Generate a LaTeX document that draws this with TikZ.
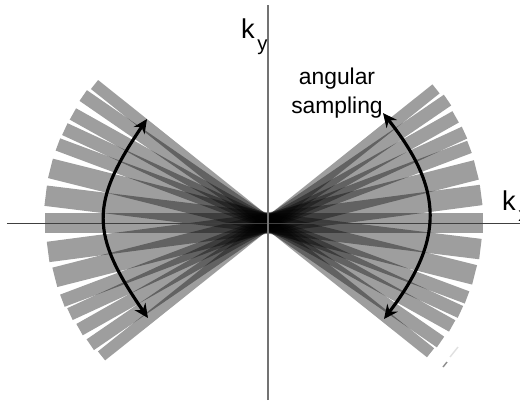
\documentclass[tikz,border=0pt]{standalone}
\usepackage{fontspec}
\setmainfont{Liberation Sans}
\usetikzlibrary{arrows.meta}

\begin{document}
\begin{tikzpicture}[x=0.02cm,y=0.02cm]
\tikzset{
  beamstrip/.style={fill=black,fill opacity=0.38},
  axisline/.style={draw=black!75,line width=0.45pt},
  samplearc/.style={draw=black,line width=1.8pt,{Stealth[length=2.8mm,width=2.6mm]}-{Stealth[length=2.8mm,width=2.6mm]}},
  axislabel/.style={inner sep=0pt,font=\fontsize{15.5}{15.5}\selectfont},
  sublabel/.style={inner sep=0pt,font=\fontsize{11.5}{11.5}\selectfont},
  samplelabel/.style={inner sep=0pt,align=center,font=\fontsize{13}{16.5}\selectfont}
}
\useasboundingbox (-268,-177) rectangle (252,223);
\clip (-268,-177) rectangle (252,223);
% strips: angle/width/left end/right end
\foreach \ang/\wid/\lft/\rgt in {
  38.6/11.5/213/215,34.4/13/215.4/217.6,29.5/13/216.5/215.6,24.7/13/218/216.3,20.7/13/219.8/215.4,
  14.3/20/220/215,7.5/20.5/221.8/215,0/20.5/223/215,-7/20.5/224/214,-14.1/20/224.3/213,
  -20.5/13/224.3/212.5,-24.8/13/223.8/212,-29.2/13/223.5/211,-34.6/13/224.5/209.6,-38.6/11.5/222/208}
  \fill[beamstrip,rotate=\ang] (-\lft,-\wid/2) rectangle (\rgt,\wid/2);
% axes
\coordinate (x_l) at (-261,0);
\coordinate (x_r) at (252,0);
\coordinate (y_b) at (0,-177);
\coordinate (y_t) at (0,218);
\draw[axisline] (x_l) -- (x_r);
\draw[axisline,draw=black!55,line width=0.7pt] (y_b) -- (y_t);
% arcs
\coordinate (r_t) at (115,110);
\coordinate (r_b) at (116,-96);
\coordinate (l_t) at (-121,104);
\coordinate (l_b) at (-120,-95);
\draw[samplearc] (r_t) .. controls (176,33) and (176,-17) .. (r_b);
\draw[samplearc] (l_t) .. controls (-178,20) and (-178,-11) .. (l_b);
% specks
\draw[black!45,line width=0.8pt] (175,-144) -- (179,-139);
\draw[black!12,line width=0.8pt] (182,-134) -- (190,-124);
% labels
\node[axislabel] (lab_ky) at (-20,194) {k};
\node[sublabel,anchor=north west] (lab_kysub) at ([xshift=1pt]lab_ky.south east) {y};
\node[axislabel] (lab_kx) at (241,22.5) {k};
\node[sublabel,anchor=north west] (lab_kxsub) at ([xshift=1pt]lab_kx.south east) {x};
\node[samplelabel] (lab_ang) at (69,130) {angular\\sampling};
\end{tikzpicture}
\end{document}
